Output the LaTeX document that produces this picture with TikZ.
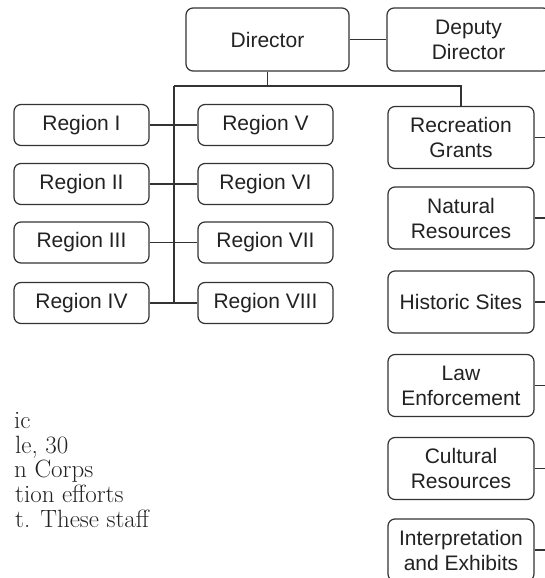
\documentclass[tikz,border=0pt]{standalone}
\usepackage{fontspec}
\newfontfamily\boxfont{Liberation Sans}
\definecolor{linegray}{HTML}{333333}
\definecolor{textgray}{HTML}{222222}
\begin{document}
\begin{tikzpicture}[x=1pt,y=-1pt,
  box/.style={draw=linegray, line width=1.2pt, rounded corners=7pt, inner sep=0pt,
    align=center, text=textgray, font=\boxfont\fontsize{21}{25}\selectfont},
  topbox/.style={box, minimum width=163pt, minimum height=63pt},
  regbox/.style={box, minimum width=135pt, minimum height=41pt},
  divbox/.style={box, minimum width=146pt, minimum height=62pt},
  conn/.style={draw=linegray, line width=1.1pt},
  bodytext/.style={anchor=base west, inner sep=0pt, text=textgray,
    font=\fontsize{25}{25}\selectfont}]
\fill[white] (0,0) rectangle (545,578);
\clip (0,0) rectangle (545,578);
\useasboundingbox (0,0) rectangle (545,578);

% top
\node[topbox] (dir) at (267.5,39.5) {Director};
\node[topbox] (dep) at (468.5,39.5) {Deputy\\Director};

% regions
\node[regbox] (r1) at (81.5,125) {Region I};
\node[regbox] (r2) at (81.5,184) {Region II};
\node[regbox] (r3) at (81.5,242.5) {Region III};
\node[regbox] (r4) at (81.5,303) {Region IV};
\node[regbox] (r5) at (265.5,125) {Region V};
\node[regbox] (r6) at (265.5,184) {Region VI};
\node[regbox] (r7) at (265.5,242.5) {Region VII};
\node[regbox] (r8) at (265.5,303) {Region VIII};

% divisions
\node[divbox] (rec) at (461,137.5) {Recreation\\Grants};
\node[divbox] (nat) at (461,218) {Natural\\Resources};
\node[divbox] (his) at (461,302) {Historic Sites};
\node[divbox] (law) at (461,385.5) {Law\\Enforcement};
\node[divbox] (cul) at (461,468.5) {Cultural\\Resources};
\node[divbox] (int) at (461,550) {Interpretation\\and Exhibits};

% connectors
\coordinate (jl) at (174,86);
\coordinate (jr) at (rec.north |- jl);
\coordinate (tb) at (174,303);
\draw[conn] (dir.east) -- (dep.west);
\draw[conn] (dir.south) -- (dir.south |- jl);
\draw[conn] (jl) -- (jr) -- (rec.north);
\draw[conn] (jl) -- (tb);
\draw[conn] (r1.east) -- (r5.west);
\draw[conn] (r2.east) -- (r6.west);
\draw[conn] (r3.east) -- (r7.west);
\draw[conn] (r4.east) -- (r8.west);

\coordinate (xrec) at (560,137.5);
\coordinate (xnat) at (560,218);
\coordinate (xhis) at (560,302);
\coordinate (xlaw) at (560,385.5);
\coordinate (xcul) at (560,468.5);
\coordinate (xint) at (560,550);
\draw[conn] (rec.east) -- (xrec);
\draw[conn] (nat.east) -- (xnat);
\draw[conn] (his.east) -- (xhis);
\draw[conn] (law.east) -- (xlaw);
\draw[conn] (cul.east) -- (xcul);
\draw[conn] (int.east) -- (xint);

% page text fragments
\node[bodytext] (t1) at (14,428) {ic};
\node[bodytext] (t2) at (15,453) {le, 30};
\node[bodytext] (t3) at (14,477.5) {n Corps};
\node[bodytext] (t4) at (15,502) {tion efforts};
\node[bodytext] (t5) at (15,527) {t. These staff};
\end{tikzpicture}
\end{document}
